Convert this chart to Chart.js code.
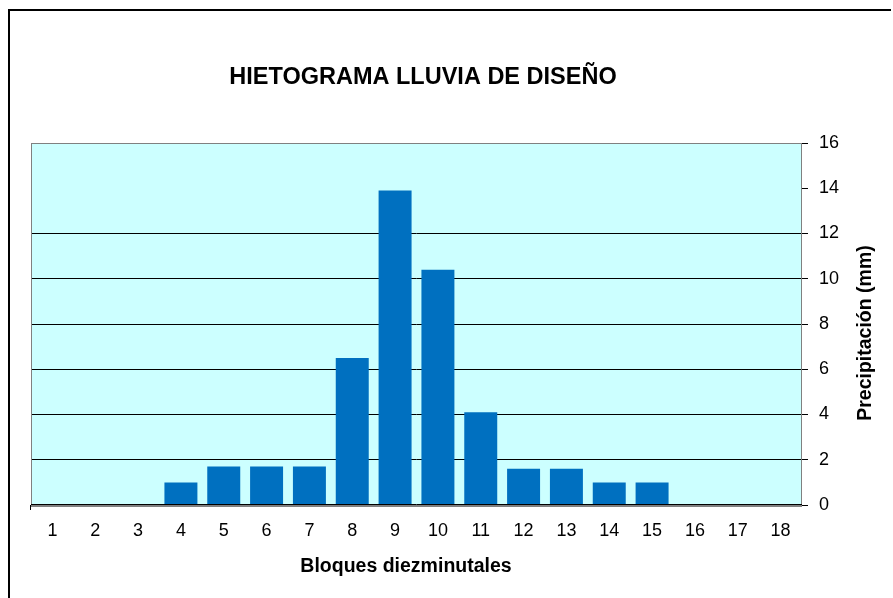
<!DOCTYPE html>
<html lang="es">
<head>
<meta charset="utf-8">
<title>Hietograma lluvia de diseño</title>
<script src="https://cdn.jsdelivr.net/npm/chart.js@4.4.1/dist/chart.umd.min.js"></script>
<style>
  html, body { margin: 0; padding: 0; background: #fff; }
  #wrap { width: 893px; height: 598px; position: relative; }
</style>
</head>
<body>
<div id="wrap"><canvas id="hietograma" width="893" height="598"></canvas></div>
<script>
// data
const bloques = ["1", "2", "3", "4", "5", "6", "7", "8", "9", "10", "11", "12", "13", "14", "15", "16", "17", "18"];
const precipitacion = [0, 0, 0, 1.0, 1.7, 1.7, 1.7, 6.5, 13.9, 10.4, 4.1, 1.6, 1.6, 1.0, 1.0, 0, 0, 0];
const yTicks = [0, 2, 4, 6, 8, 10, 12, 14, 16];

const chartTitle = "HIETOGRAMA LLUVIA DE DISEÑO";
const xTitle = "Bloques diezminutales";
const yTitle = "Precipitación (mm)";

const FONT = "'Liberation Sans', Arial, Helvetica, sans-serif";

document.addEventListener("DOMContentLoaded", () => {
  // background, frame, plot border and titles (Excel style)
  const excelFrame = {
    id: "excelFrame",
    beforeDraw(chart) {
      const { ctx, chartArea: a } = chart;
      ctx.save();
      ctx.fillStyle = "#ffffff";
      ctx.fillRect(0, 0, chart.width, chart.height);
      // outer chart border (only top and left are inside the window)
      ctx.strokeStyle = "#000000";
      ctx.lineWidth = 2;
      ctx.beginPath();
      ctx.moveTo(9, chart.height);
      ctx.lineTo(9, 10);
      ctx.lineTo(891, 10);
      ctx.stroke();
      // plot area fill
      ctx.fillStyle = "#CCFFFF";
      ctx.fillRect(a.left, a.top, a.right - a.left, a.bottom - a.top);
      ctx.restore();
    },
    afterDraw(chart) {
      const { ctx, chartArea: a } = chart;
      ctx.save();
      ctx.strokeStyle = "#808080";
      ctx.lineWidth = 1;
      ctx.strokeRect(a.left + 0.5, a.top + 0.5, a.right - a.left - 1, a.bottom - a.top);
      // category axis line
      ctx.strokeStyle = "#000000";
      ctx.beginPath();
      ctx.moveTo(a.left, a.bottom - 0.5);
      ctx.lineTo(a.right, a.bottom - 0.5);
      ctx.stroke();
      ctx.strokeStyle = "#808080";
      ctx.lineWidth = 2;
      ctx.beginPath();
      ctx.moveTo(a.left, a.bottom + 1);
      ctx.lineTo(a.right, a.bottom + 1);
      ctx.stroke();

      ctx.fillStyle = "#000000";
      ctx.textBaseline = "middle";
      ctx.textAlign = "center";
      // main title
      ctx.font = "bold 23.5px " + FONT;
      ctx.fillText(chartTitle, 423, 78);
      // x axis title
      ctx.font = "bold 19.5px " + FONT;
      ctx.fillText(xTitle, 406, 567);
      // y axis title, reading bottom to top
      ctx.translate(866, 333);
      ctx.rotate(-Math.PI / 2);
      ctx.fillText(yTitle, 0, 0);
      ctx.restore();
    }
  };

  try {
    const el = document.getElementById("hietograma");
    new Chart(el, {
      type: "bar",
      data: {
        labels: bloques,
        datasets: [{
          label: "Precipitación",
          data: precipitacion,
          backgroundColor: "#0070C0",
          borderWidth: 0,
          barPercentage: 0.77,
          categoryPercentage: 1.0
        }]
      },
      options: {
        responsive: false,
        animation: false,
        devicePixelRatio: 1,
        layout: { padding: { left: 31, top: 143, right: 0, bottom: 0 } },
        plugins: {
          legend: { display: false },
          title: { display: false },
          tooltip: { enabled: false }
        },
        scales: {
          x: {
            afterFit: (scale) => { scale.height = 93; },
            border: { display: false },
            grid: {
              drawOnChartArea: false,
              tickLength: 5,
              color: (c) => (c.index === 0 ? "#000000" : "rgba(0,0,0,0)")
            },
            ticks: {
              color: "#000000",
              padding: 10,
              maxRotation: 0,
              font: { family: FONT, size: 18 }
            }
          },
          y: {
            position: "right",
            min: yTicks[0],
            max: yTicks[yTicks.length - 1],
            afterFit: (scale) => { scale.width = 91; },
            afterBuildTicks: (scale) => { scale.ticks = yTicks.map(v => ({ value: v })); },
            border: { display: false },
            grid: {
              tickLength: 6,
              lineWidth: 1,
              color: (c) => {
                const v = c.tick ? c.tick.value : null;
                return (v === 0 || v === 14 || v === 16) ? "rgba(0,0,0,0)" : "#000000";
              },
              tickColor: "#000000"
            },
            ticks: {
              color: "#000000",
              padding: 11,
              font: { family: FONT, size: 18 }
            }
          }
        }
      },
      plugins: [excelFrame]
    });
  } catch (e) {
    console.error("Hietograma: error creating bar chart:", e);
  }
});
</script>
</body>
</html>
